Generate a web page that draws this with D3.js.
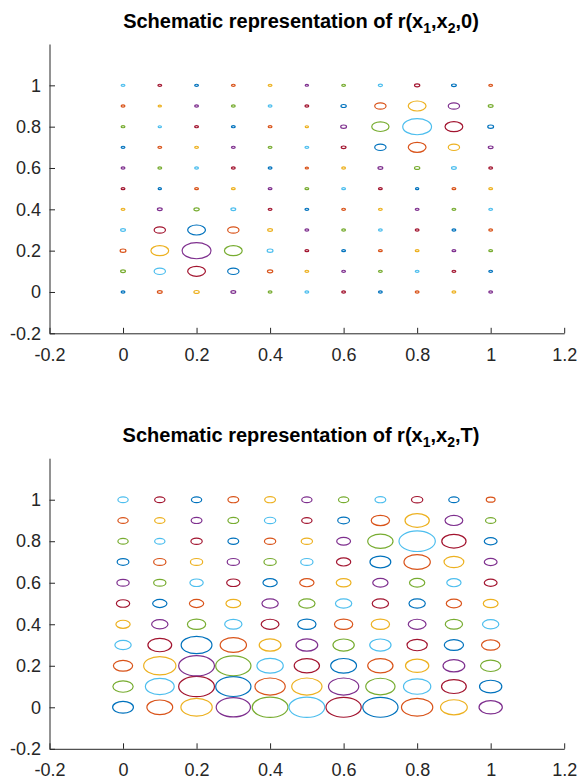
<!DOCTYPE html>
<html>
<head>
<meta charset="utf-8">
<script src="https://cdn.jsdelivr.net/npm/d3@7"></script>
<style>
  body { margin: 0; background: #fff; }
  svg { display: block; font-family: "Liberation Sans", Arial, sans-serif; }
  .axis path, .axis line { stroke: #262626; }
  .axis text { fill: #262626; font-size: 18px; }
</style>
</head>
<body>
<div id="chart"></div>
<script>
// grid positions
const x1Values = [0, 0.1, 0.2, 0.3, 0.4, 0.5, 0.6, 0.7, 0.8, 0.9, 1];
const x2Values = [0, 0.1, 0.2, 0.3, 0.4, 0.5, 0.6, 0.7, 0.8, 0.9, 1];
const xTickValues = [-0.2, 0, 0.2, 0.4, 0.6, 0.8, 1, 1.2];
const yTickValues = [-0.2, 0, 0.2, 0.4, 0.6, 0.8, 1];

// circle radius (data units), one row per x2 from 0 up to 1, one entry per x1
const radiusAt0 = [
  [.0052, .0065, .0072, .0065, .0052, .0052, .0052, .0052, .0052, .0052, .0052],
  [.0065, .0154, .0242, .0154, .0072, .0052, .0052, .0052, .0052, .0052, .0052],
  [.0079, .0242, .0392, .0242, .0079, .0052, .0052, .0052, .0052, .0052, .0052],
  [.0065, .0154, .0242, .0154, .0065, .0052, .0052, .0052, .0052, .0052, .0052],
  [.0052, .0065, .0072, .0065, .0052, .0052, .0052, .0052, .0052, .0052, .0052],
  [.0052, .0045, .0052, .0052, .0052, .0052, .0052, .0052, .0045, .0052, .0052],
  [.0052, .0052, .0052, .0052, .0052, .0045, .0052, .0065, .0072, .0065, .0052],
  [.0052, .0052, .0052, .0052, .0052, .0052, .0065, .0154, .0242, .0154, .0065],
  [.0052, .0045, .0052, .0052, .0052, .0045, .0079, .0235, .0392, .0242, .0079],
  [.0052, .0045, .0052, .0052, .0052, .0052, .0072, .0154, .0242, .0154, .0065],
  [.0052, .0052, .0052, .0052, .0052, .0045, .0052, .0058, .0072, .0065, .0052]
];
const radiusAtT = [
  [.0283, .0351, .0426, .0466, .0487, .0487, .0480, .0480, .0426, .0364, .0317],
  [.0276, .0392, .0487, .0480, .0412, .0412, .0412, .0398, .0371, .0337, .0303],
  [.0262, .0439, .0487, .0480, .0358, .0344, .0351, .0344, .0317, .0296, .0276],
  [.0222, .0324, .0419, .0358, .0296, .0296, .0290, .0290, .0276, .0262, .0249],
  [.0194, .0222, .0249, .0235, .0242, .0249, .0249, .0249, .0242, .0235, .0222],
  [.0181, .0194, .0194, .0201, .0222, .0222, .0222, .0222, .0222, .0208, .0201],
  [.0167, .0167, .0181, .0181, .0194, .0194, .0201, .0208, .0208, .0194, .0174],
  [.0160, .0167, .0167, .0167, .0167, .0167, .0194, .0283, .0358, .0269, .0174],
  [.0140, .0140, .0154, .0147, .0154, .0154, .0188, .0344, .0494, .0330, .0174],
  [.0140, .0140, .0147, .0147, .0154, .0140, .0160, .0249, .0330, .0242, .0140],
  [.0140, .0140, .0140, .0147, .0147, .0140, .0140, .0147, .0154, .0140, .0120]
];

// MATLAB default colour order
const colorOrder = ['#0072BD', '#D95319', '#EDB120', '#7E2F8E', '#77AC30', '#4DBEEE', '#A2142F'];

const width = 583, height = 779;
const svg = d3.select('#chart').append('svg')
  .attr('width', width)
  .attr('height', height);

// MATLAB style labels: plain hyphen for negatives
const tickFmt = d => String(d);

function drawPanel(top, bottom, radii, last) {
  const x = d3.scaleLinear().domain([-0.2, 1.2]).range([49.5, 564.2]);
  const y = d3.scaleLinear().domain([-0.2, 1.2]).range([bottom, top]);

  const g = svg.append('g');

  // circles in data units, plotted in the original loop order so colours cycle the same way
  const pts = [];
  x2Values.forEach((yv, i) => {
    x1Values.forEach((xv, j) => {
      pts.push({ x: xv, y: yv, r: radii[i][j], k: i * x1Values.length + j });
    });
  });

  g.selectAll('ellipse.pt')
    .data(pts)
    .join('ellipse')
    .classed('pt', true)
    .attr('cx', d => x(d.x))
    .attr('cy', d => y(d.y))
    .attr('rx', d => x(d.x + d.r) - x(d.x))
    .attr('ry', d => y(d.y) - y(d.y + d.r))
    .attr('fill', 'none')
    .attr('stroke', d => colorOrder[d.k % colorOrder.length])
    .attr('stroke-width', 1.2);

  // axes, ticks pointing inward
  g.append('g')
    .attr('class', 'axis')
    .attr('transform', `translate(0,${bottom})`)
    .call(d3.axisBottom(x).tickValues(xTickValues).tickFormat(tickFmt).tickSizeInner(-5.5).tickSizeOuter(0).tickPadding(14.5));

  g.append('g')
    .attr('class', 'axis')
    .attr('transform', `translate(${x(-0.2)},0)`)
    .call(d3.axisLeft(y).tickValues(yTickValues).tickFormat(tickFmt).tickSizeInner(-5.5).tickSizeOuter(0).tickPadding(8.5));

  // title with subscripts
  const t = g.append('text')
    .attr('x', 301)
    .attr('y', top - 16)
    .attr('text-anchor', 'middle')
    .attr('font-weight', 'bold')
    .attr('font-size', 20)
    .attr('fill', '#000');
  t.append('tspan').text('Schematic representation of r(x');
  t.append('tspan').attr('dy', 5).attr('font-size', 14).text('1');
  t.append('tspan').attr('dy', -5).text(',x');
  t.append('tspan').attr('dy', 5).attr('font-size', 14).text('2');
  t.append('tspan').attr('dy', -5).text(',' + last + ')');
}

drawPanel(44, 333.3, radiusAt0, '0');
drawPanel(458.2, 748.8, radiusAtT, 'T');
</script>
</body>
</html>
